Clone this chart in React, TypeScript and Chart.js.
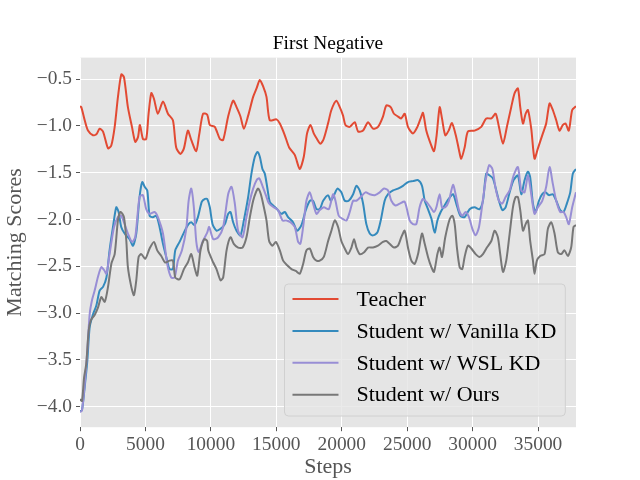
import { useEffect, useRef } from "react"
import { Chart, registerables } from "chart.js"

Chart.register(...registerables)

const FONT = "'Liberation Serif', 'Times New Roman', serif"

const titleText = "First Negative"
const xLabel = "Steps"
const yLabel = "Matching Scores"
const seriesNames = ["Teacher", "Student w/ Vanilla KD", "Student w/ WSL KD", "Student w/ Ours"]
const seriesColors = ["#E24A33", "#348ABD", "#988ED5", "#777777"]

const xTicks = [0, 5000, 10000, 15000, 20000, 25000, 30000, 35000]
const yTicks = [-4.0, -3.5, -3.0, -2.5, -2.0, -1.5, -1.0, -0.5]

const teacherSteps = [
  0, 100, 360, 610, 990, 1250, 1500, 1760, 2140, 2390, 2650, 2900, 3155, 3360, 3660, 3970, 4220, 4430, 4580, 4810,
  5060, 5240, 5450, 5650, 5950, 6340, 6720, 7100, 7350, 7680, 7940, 8240, 8500, 8880, 9100, 9400, 9720, 9920, 10300,
  10690, 10940, 11320, 11700, 11960, 12260, 12520, 12850, 13230, 13490, 13740, 14000, 14250, 14500, 15010, 15270,
  15650, 15980, 16410, 16790, 17100, 17350, 17610, 17860, 18110, 18370, 18620, 18960, 19210, 19590, 19850, 20100,
  20280, 20610, 20990, 21250, 21630, 22010, 22390, 22770, 23150, 23410, 23740, 23990, 24300, 24550, 24810, 25060,
  25440, 25780, 26030, 26210, 26460, 26790, 27050, 27250, 27480, 27660, 27910, 28170, 28420, 28750, 28960, 29130,
  29390, 29640, 30150, 30660, 31040, 31430, 31760, 32010, 32320, 32620, 32950, 33210, 33460, 33640, 33850, 34050,
  34230, 34480, 34730, 34990, 35370, 35620, 35880, 36130, 36390, 36640, 36900, 37100, 37350, 37610, 37900,
]
const teacherScores = [
  -0.79, -0.8, -0.94, -1.05, -1.1, -1.09, -1.03, -1.06, -1.24, -1.21, -1.01, -0.69, -0.45, -0.48, -0.8, -1.01, -1.17,
  -1.12, -0.99, -1.14, -1.14, -0.87, -0.65, -0.71, -0.87, -0.74, -0.87, -0.94, -1.23, -1.3, -1.24, -1.05, -1.15, -1.27,
  -1.1, -0.87, -0.88, -0.99, -1.01, -1.14, -1.15, -0.9, -0.73, -0.8, -0.9, -1.03, -0.89, -0.69, -0.6, -0.51, -0.58,
  -0.69, -0.94, -0.93, -0.975, -1.1, -1.23, -1.31, -1.46, -1.33, -1.08, -0.99, -1.08, -1.14, -1.19, -1.14, -0.97, -0.83,
  -0.73, -0.8, -0.89, -0.99, -1.01, -0.96, -1.06, -1.05, -0.96, -1.03, -1.01, -0.9, -0.78, -0.8, -0.87, -0.9, -0.92,
  -0.87, -1.01, -1.08, -1.01, -0.92, -0.86, -1.05, -1.19, -1.27, -1.1, -0.8, -0.92, -1.1, -1.05, -0.97, -1.12, -1.26,
  -1.35, -1.23, -1.06, -1.05, -1.01, -0.92, -0.92, -0.87, -1.01, -1.19, -1.01, -0.8, -0.65, -0.6, -0.8, -0.975, -0.87,
  -0.83, -1.03, -1.35, -1.24, -1.08, -0.975, -0.76, -0.83, -0.94, -1.05, -0.99, -0.975, -1.05, -0.83, -0.79,
]

const vanillaSteps = [
  0, 150, 360, 560, 740, 1000, 1250, 1500, 1760, 2020, 2260, 2520, 2770, 2950, 3150, 3410, 3790, 4050, 4300, 4550, 4760,
  4940, 5140, 5320, 5570, 5830, 6080, 6340, 6590, 6840, 7100, 7280, 7610, 7940, 8240, 8500, 8750, 9010, 9310, 9550,
  9720, 9920, 10130, 10430, 10740, 11070, 11320, 11500, 11700, 11960, 12260, 12520, 12850, 13100, 13360, 13560, 13740,
  13940, 14120, 14300, 14500, 14760, 15060, 15390, 15650, 15900, 16280, 16590, 16920, 17250, 17560, 17810, 18070,
  18320, 18580, 18960, 19160, 19410, 19670, 19970, 20230, 20530, 20870, 21120, 21370, 21630, 21880, 22140, 22390,
  22720, 22980, 23280, 23540, 23920, 24300, 24680, 25060, 25440, 25830, 26130, 26340, 26590, 26850, 27100, 27310,
  27560, 27860, 28170, 28500, 28750, 29060, 29390, 29770, 30150, 30530, 30790, 31040, 31300, 31550, 31810, 32010,
  32270, 32520, 32830, 33130, 33460, 33720, 33970, 34230, 34400, 34610, 34810, 35070, 35320, 35570, 35830, 36130,
  36390, 36690, 36950, 37200, 37460, 37660, 37900,
]
const vanillaScores = [
  -4.05, -4.04, -3.79, -3.51, -3.15, -3.01, -2.92, -2.76, -2.72, -2.62, -2.33, -2.08, -1.87, -1.92, -2.08, -2.15, -2.21,
  -2.28, -2.15, -1.76, -1.6, -1.65, -1.69, -1.96, -1.975, -1.96, -2.08, -2.26, -2.4, -2.53, -2.53, -2.33, -2.24, -2.14,
  -2.06, -2.03, -2.06, -1.975, -1.81, -1.78, -1.78, -1.87, -2.05, -2.12, -2.1, -2.05, -1.94, -1.92, -2.03, -2.12, -2.17,
  -2.01, -1.76, -1.51, -1.33, -1.28, -1.33, -1.46, -1.51, -1.65, -1.81, -1.85, -1.89, -1.94, -1.92, -1.975, -2.03,
  -2.12, -2.06, -1.9, -1.8, -1.8, -1.89, -1.89, -1.8, -1.74, -1.8, -1.74, -1.67, -1.71, -1.8, -1.8, -1.73, -1.64,
  -1.69, -1.83, -2.05, -2.15, -2.17, -2.14, -2.01, -1.8, -1.73, -1.69, -1.67, -1.64, -1.6, -1.59, -1.58, -1.64, -1.8,
  -1.89, -1.99, -2.14, -2.01, -1.92, -1.85, -1.78, -1.73, -1.83, -1.96, -1.975, -1.89, -1.87, -1.89, -1.8, -1.51, -1.53,
  -1.56, -1.69, -1.8, -1.9, -1.87, -1.71, -1.58, -1.53, -1.73, -1.58, -1.49, -1.55, -1.83, -1.92, -1.8, -1.73, -1.71,
  -1.74, -1.73, -1.8, -1.9, -1.92, -1.83, -1.71, -1.51, -1.46,
]

const wslSteps = [
  0, 150, 360, 560, 740, 920, 1120, 1380, 1630, 1840, 2020, 2260, 2600, 2900, 3150, 3410, 3660, 3970, 4220, 4550, 4810,
  5060, 5320, 5700, 5950, 6340, 6670, 6970, 7230, 7480, 7790, 8120, 8300, 8500, 8700, 8880, 9060, 9390, 9720, 9870,
  10180, 10560, 10940, 11320, 11580, 11830, 12080, 12420, 12720, 12980, 13230, 13490, 13690, 13940, 14200, 14450,
  14800, 15140, 15470, 15780, 16080, 16410, 16670, 16840, 17050, 17300, 17560, 17810, 18070, 18320, 18630, 19010,
  19340, 19520, 19770, 20030, 20360, 20610, 20870, 21120, 21450, 21810, 22140, 22520, 22900, 23230, 23540, 23790,
  24100, 24430, 24810, 25190, 25440, 25700, 25950, 26210, 26460, 26790, 27050, 27230, 27480, 27660, 27910, 28170,
  28500, 28700, 28960, 29210, 29470, 29720, 29980, 30230, 30490, 30750, 31000, 31260, 31510, 31760, 32010, 32270,
  32520, 32830, 33130, 33460, 33720, 33970, 34230, 34480, 34730, 34990, 35320, 35620, 35880, 36130, 36390, 36690,
  36950, 37150, 37350, 37610, 37900,
]
const wslScores = [
  -4.06, -4.04, -3.76, -3.4, -3.01, -2.86, -2.76, -2.61, -2.51, -2.54, -2.58, -2.37, -2.08, -1.975, -1.96, -2.05, -2.15,
  -2.24, -2.19, -1.76, -1.74, -1.89, -1.94, -1.92, -1.975, -2.15, -2.48, -2.62, -2.62, -2.44, -2.33, -2.1, -1.8, -1.67,
  -1.87, -2.23, -2.35, -2.23, -2.14, -2.08, -2.21, -2.19, -2.08, -1.73, -1.65, -1.83, -2.12, -2.19, -1.975, -1.8, -1.67,
  -1.58, -1.56, -1.64, -1.74, -1.83, -1.87, -1.9, -2.01, -2.01, -2.03, -2.08, -2.24, -2.26, -2.08, -1.8, -1.71, -1.83,
  -1.94, -1.9, -1.87, -1.89, -1.73, -1.8, -1.96, -1.99, -2.01, -1.92, -1.8, -1.8, -1.76, -1.71, -1.73, -1.74, -1.71,
  -1.67, -1.69, -1.8, -1.85, -1.83, -1.81, -2.01, -2.05, -2.05, -1.87, -1.78, -1.81, -1.87, -1.92, -1.87, -1.73, -1.87,
  -1.87, -1.81, -1.63, -1.73, -1.9, -1.96, -1.92, -1.975, -2.1, -2.17, -2.08, -1.83, -1.58, -1.42, -1.46, -1.67, -1.8,
  -1.83, -1.76, -1.69, -1.53, -1.44, -1.69, -1.71, -1.53, -1.73, -1.94, -1.87, -1.8, -1.65, -1.44, -1.62, -1.8, -1.92,
  -1.92, -1.975, -2.05, -1.87, -1.71,
]

const oursSteps = [
  0, 150, 310, 480, 660, 820, 1120, 1380, 1630, 1890, 2140, 2400, 2650, 2900, 3100, 3360, 3540, 3660, 3920, 4120, 4300,
  4480, 4680, 4990, 5320, 5650, 5900, 6210, 6510, 6840, 7100, 7280, 7610, 7940, 8240, 8500, 8750, 8960, 9210, 9500,
  9720, 9800, 10180, 10430, 10740, 10940, 11200, 11500, 11750, 12080, 12420, 12720, 12980, 13230, 13440, 13610, 13820,
  14050, 14250, 14450, 14710, 14960, 15270, 15520, 15830, 16160, 16490, 16790, 17050, 17300, 17560, 17810, 18070,
  18320, 18630, 18960, 19210, 19470, 19720, 19970, 20230, 20480, 20740, 20940, 21120, 21370, 21710, 22010, 22390,
  22770, 23150, 23410, 23660, 23990, 24300, 24550, 24810, 25060, 25320, 25570, 25830, 26130, 26340, 26590, 26850,
  27050, 27310, 27480, 27660, 27910, 28240, 28450, 28630, 28800, 29010, 29210, 29390, 29640, 29900, 30230, 30530,
  30790, 31090, 31430, 31680, 31930, 32110, 32320, 32570, 32830, 33080, 33290, 33460, 33640, 33850, 34050, 34230,
  34400, 34610, 34730, 34910, 35160, 35500, 35750, 36010, 36260, 36510, 36770, 37020, 37280, 37530, 37710, 37900,
]
const oursScores = [
  -3.92, -3.94, -3.69, -3.54, -3.19, -3.08, -3.02, -2.94, -2.83, -2.88, -2.72, -2.47, -2.37, -2.01, -1.92, -1.975, -2.23,
  -2.51, -2.72, -2.81, -2.65, -2.4, -2.37, -2.42, -2.31, -2.24, -2.33, -2.39, -2.46, -2.44, -2.44, -2.62, -2.64, -2.53,
  -2.46, -2.37, -2.51, -2.6, -2.33, -2.21, -2.23, -2.33, -2.46, -2.53, -2.65, -2.62, -2.33, -2.19, -2.26, -2.3, -2.3,
  -2.19, -1.975, -1.8, -1.71, -1.67, -1.73, -1.87, -2.01, -2.23, -2.28, -2.24, -2.33, -2.44, -2.49, -2.53, -2.55, -2.58,
  -2.475, -2.33, -2.31, -2.4, -2.44, -2.44, -2.4, -2.23, -2.12, -2.01, -2.08, -2.23, -2.31, -2.37, -2.3, -2.21, -2.3,
  -2.37, -2.35, -2.3, -2.3, -2.28, -2.24, -2.23, -2.26, -2.3, -2.28, -2.19, -2.12, -2.3, -2.44, -2.475, -2.37, -2.15,
  -2.26, -2.4, -2.51, -2.56, -2.37, -2.3, -2.4, -2.19, -2.0, -1.96, -2.05, -2.3, -2.51, -2.53, -2.4, -2.28, -2.31, -2.37,
  -2.4, -2.37, -2.3, -2.23, -2.12, -2.19, -2.37, -2.56, -2.44, -2.15, -1.87, -1.76, -1.76, -1.9, -2.12, -2.05, -2.01,
  -2.23, -2.44, -2.58, -2.44, -2.39, -2.37, -2.1, -2.03, -2.15, -2.35, -2.37, -2.33, -2.39, -2.3, -2.08, -2.06,
]

const allSteps = [teacherSteps, vanillaSteps, wslSteps, oursSteps]
const allScores = [teacherScores, vanillaScores, wslScores, oursScores]

const tickFont = { family: FONT, size: 19.4 }
const labelFont = { family: FONT, size: 22 }

const plotBackground = {
  id: "plotBackground",
  beforeDraw(chart: Chart) {
    const { ctx, chartArea } = chart
    ctx.save()
    ctx.fillStyle = "#E5E5E5"
    ctx.fillRect(chartArea.left, chartArea.top, chartArea.right - chartArea.left, chartArea.bottom - chartArea.top)
    ctx.restore()
  },
}

const titleAndLegend = {
  id: "titleAndLegend",
  afterDraw(chart: Chart) {
    const { ctx, chartArea } = chart
    ctx.save()
    // title
    ctx.font = `19.4px ${FONT}`
    ctx.fillStyle = "#000000"
    ctx.textAlign = "center"
    ctx.textBaseline = "alphabetic"
    ctx.fillText(titleText, (chartArea.left + chartArea.right) / 2, chartArea.top - 8.3)

    // legend box, lower right inside the axes
    ctx.font = `22px ${FONT}`
    const labels = chart.data.datasets.map((d) => String(d.label))
    const textW = Math.max(...labels.map((l) => ctx.measureText(l).width))
    const boxW = 72 + textW + 9
    const boxH = 132
    const right = chartArea.right - 10.7
    const bottom = chartArea.bottom - 11.2
    const left = right - boxW
    const top = bottom - boxH
    ctx.beginPath()
    ctx.roundRect(left, top, boxW, boxH, 4)
    ctx.fillStyle = "rgba(229,229,229,0.8)"
    ctx.fill()
    ctx.strokeStyle = "#D0D0D0"
    ctx.lineWidth = 1
    ctx.stroke()

    ctx.textAlign = "left"
    ctx.textBaseline = "middle"
    chart.data.datasets.forEach((d, i) => {
      const y = top + 15 + i * 31.9
      ctx.strokeStyle = String(d.borderColor)
      ctx.lineWidth = 2
      ctx.beginPath()
      ctx.moveTo(left + 8, y)
      ctx.lineTo(left + 54, y)
      ctx.stroke()
      ctx.fillStyle = "#000000"
      ctx.fillText(labels[i], left + 72, y + 1)
    })
    ctx.restore()
  },
}

export default function App() {
  const chartRef = useRef<HTMLCanvasElement>(null)
  const chartInstance = useRef<Chart | null>(null)

  useEffect(() => {
    if (!chartRef.current) return
    if (chartInstance.current) chartInstance.current.destroy()
    const ctx = chartRef.current.getContext("2d")
    if (!ctx) return

    chartInstance.current = new Chart(ctx, {
      type: "line",
      data: {
        datasets: seriesNames.map((name, i) => ({
          label: name,
          data: allSteps[i].map((s, j) => ({ x: s, y: allScores[i][j] })),
          borderColor: seriesColors[i],
          backgroundColor: seriesColors[i],
          borderWidth: 2,
          pointRadius: 0,
          tension: 0.25,
          fill: false,
          order: seriesNames.length - i,
        })),
      },
      options: {
        responsive: false,
        animation: false,
        layout: { padding: { top: 57.6, right: 64, left: 0, bottom: 0 } },
        plugins: {
          legend: { display: false },
          title: { display: false },
          tooltip: { enabled: false },
        },
        scales: {
          x: {
            type: "linear",
            min: 0,
            max: 37900,
            afterBuildTicks: (scale) => {
              scale.ticks = xTicks.map((value) => ({ value }))
            },
            afterFit: (scale) => {
              scale.height = 52.8
            },
            grid: { color: "#FFFFFF", lineWidth: 1, tickColor: "#555555", tickLength: 4 },
            border: { display: false },
            ticks: {
              color: "#555555",
              font: tickFont,
              padding: 2,
              maxRotation: 0,
              autoSkip: false,
              callback: (v) => String(v),
            },
            title: {
              display: true,
              text: xLabel,
              color: "#555555",
              font: labelFont,
              padding: { top: 0, bottom: 0 },
            },
          },
          y: {
            type: "linear",
            min: -4.22,
            max: -0.27,
            afterBuildTicks: (scale) => {
              scale.ticks = yTicks.map((value) => ({ value }))
            },
            afterFit: (scale) => {
              scale.width = 80
            },
            grid: { color: "#FFFFFF", lineWidth: 1, tickColor: "#555555", tickLength: 4 },
            border: { display: false },
            ticks: {
              color: "#555555",
              font: tickFont,
              padding: 4,
              callback: (v) => {
                const n = Number(v)
                return (n < 0 ? "\u2212" : "") + Math.abs(n).toFixed(1)
              },
            },
            title: {
              display: true,
              text: yLabel,
              color: "#555555",
              font: labelFont,
              padding: { top: 2, bottom: 0 },
            },
          },
        },
      },
      plugins: [plotBackground, titleAndLegend],
    })

    return () => {
      if (chartInstance.current) {
        chartInstance.current.destroy()
        chartInstance.current = null
      }
    }
  }, [])

  return (
    <div style={{ position: "absolute", left: 0, top: 0, width: 640, height: 480, background: "#FFFFFF" }}>
      <canvas ref={chartRef} width={640} height={480} />
    </div>
  )
}
